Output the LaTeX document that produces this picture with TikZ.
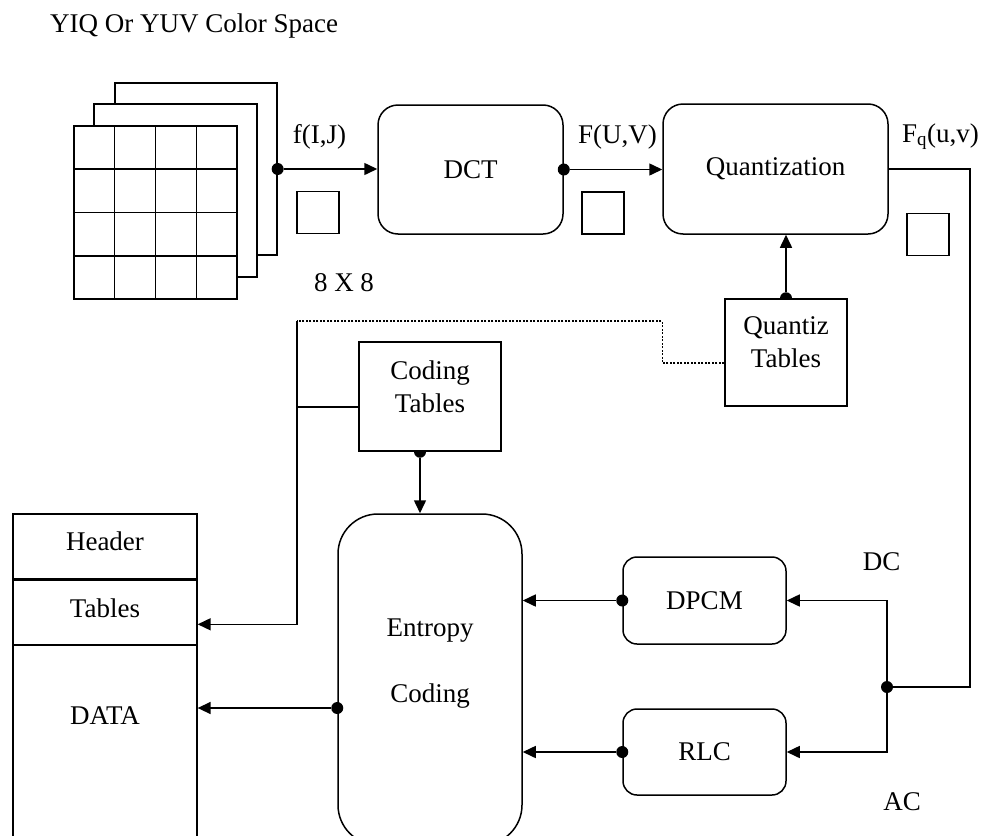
\documentclass[tikz,border=0pt]{standalone}
\usepackage{fontspec}
\setmainfont{Liberation Serif}
\usetikzlibrary{arrows.meta,backgrounds,calc}

\begin{document}
\begin{tikzpicture}[
        x=1pt, y=-1pt,
        every node/.style={font=\fontsize{27}{33}\selectfont},
        rbox/.style={rectangle, draw, fill=white, line width=1.5pt, rounded corners=20pt, inner sep=0pt},
        sqbox/.style={rectangle, draw, fill=white, line width=1.5pt, inner sep=0pt},
        blk/.style={rectangle, draw, line width=1.3pt, minimum width=42pt, minimum height=42pt, inner sep=0pt},
        cell/.style={rectangle, draw, line width=1.3pt, minimum width=184pt, inner sep=0pt},
        plate/.style={rectangle, draw, fill=white, line width=1.3pt, minimum width=163pt, minimum height=173pt, inner sep=0pt},
        txt/.style={align=center, inner sep=0pt},
        lbl/.style={anchor=base, inner sep=0pt},
        dot/.style={circle, fill, minimum size=12pt, inner sep=0pt},
        wire/.style={line width=1.5pt},
        arrow/.style={wire, -{Triangle[length=13pt,width=12pt]}},
        dotline/.style={line width=1.3pt, dash pattern=on 2pt off 1.5pt}
    ]
        \useasboundingbox (0,0) rectangle (982,835);
        \clip (0,0) rectangle (982,835);

        % title
        \node[anchor=base west, inner sep=0pt] (title) at (50,32) {YIQ Or YUV Color Space};

        % colour planes
        \node[plate, minimum width=162pt, minimum height=172pt] (plc) at (196,169) {};
        \node[plate] (plb) at (175.5,190.5) {};
        \node[plate] (pla) at (155.5,212.5) {};
        \foreach \i in {1,2,3} {
            \draw[line width=1.3pt] ($(pla.north west)!\i/4!(pla.north east)$) -- ($(pla.south west)!\i/4!(pla.south east)$);
            \draw[line width=1.3pt] ($(pla.north west)!\i/4!(pla.south west)$) -- ($(pla.north east)!\i/4!(pla.south east)$);
        }

        % blocks
        \node[rbox, minimum width=185pt, minimum height=129pt] (dct) at (470.5,169.5) {DCT};
        \node[rbox, minimum width=225pt, minimum height=130pt] (quant) at (775.5,169) {Quantization};
        \node[sqbox, minimum width=122pt, minimum height=107pt, label={[txt,yshift=10pt]center:Quantiz\\Tables}] (qtab) at (786,352.5) {};
        \node[sqbox, minimum width=142pt, minimum height=109pt, label={[txt,yshift=10pt]center:Coding\\Tables}] (ctab) at (430,396.5) {};
        \node[rbox, rounded corners=40pt, minimum width=184pt, minimum height=331pt, label={[txt,yshift=15.5pt]center:Entropy\\[33pt]Coding}] (ent) at (430,679.5) {};
        \node[rbox, rounded corners=14pt, minimum width=163pt, minimum height=87pt] (dpcm) at (704.5,600.5) {DPCM};
        \node[rbox, rounded corners=14pt, minimum width=163pt, minimum height=86pt] (rlc) at (704.5,752) {RLC};

        % output stream
        \node[cell, minimum height=65pt, label={[txt,yshift=5pt]center:Header}] (hdr) at (105,546.5) {};
        \node[cell, minimum height=64pt, anchor=north, label={[txt,yshift=4.5pt]center:Tables}] (tbl) at (hdr.south) {};
        \node[cell, minimum height=207pt, anchor=north, label={[txt,yshift=33pt]center:DATA}] (dat) at (tbl.south) {};

        % 8x8 blocks
        \node[blk] (blkf) at (318,212.5) {};
        \node[blk] (blkF) at (603,213) {};
        \node[blk] (blkq) at (928,234.5) {};

        % labels
        \node[lbl] (lf) at (319.5,143) {f(I,J)};
        \node[lbl] (lF) at (617.5,143) {F(U,V)};
        \node[lbl] (lq) at (940.5,142) {F\textsubscript{q}(u,v)};
        \node[lbl] (l8) at (344,291) {8 X 8};
        \node[lbl] (ldc) at (881.5,570) {DC};
        \node[lbl] (lac) at (902,810) {AC};

        % connections
        \node[dot] (fdot) at (plc.east) {};
        \draw[arrow] (fdot) -- (fdot -| dct.west);
        \node[dot] (ddot) at (dct.east) {};
        \draw[arrow] (ddot) -- (ddot -| quant.west);
        \node[dot] (jdot) at (887,687) {};
        \draw[wire] (quant.east) -- ++(81,0) |- (jdot);
        \draw[arrow] (jdot) |- (dpcm.east);
        \draw[arrow] (jdot) |- (rlc.east);
        \node[dot] (pdot) at (dpcm.west) {};
        \draw[arrow] (pdot) -- (pdot -| ent.east);
        \node[dot] (rdot) at (rlc.west) {};
        \draw[arrow] (rdot) -- (rdot -| ent.east);
        \node[dot] (edot) at (ent.west |- 0,708) {};
        \draw[arrow] (edot) -- (edot -| dat.east);

        % tables to header
        \coordinate (bus) at (297,321);
        \draw[dotline] ([yshift=-10.5pt]qtab.west) -- ++(-62,0) |- (bus);
        \draw[arrow] (bus) |- ([yshift=-12pt]tbl.east);
        \draw[wire] ([yshift=-10.5pt]ctab.west) -- ++(-62,0);
        \begin{scope}[on background layer]
            \node[dot] (cdot) at ([xshift=-10pt]ctab.south) {};
            \node[dot] (qdot) at (qtab.north) {};
        \end{scope}
        \draw[arrow] (cdot) -- (cdot |- ent.north);
        \draw[arrow] (qdot) -- (qdot |- quant.south);
    \end{tikzpicture}
\end{document}
